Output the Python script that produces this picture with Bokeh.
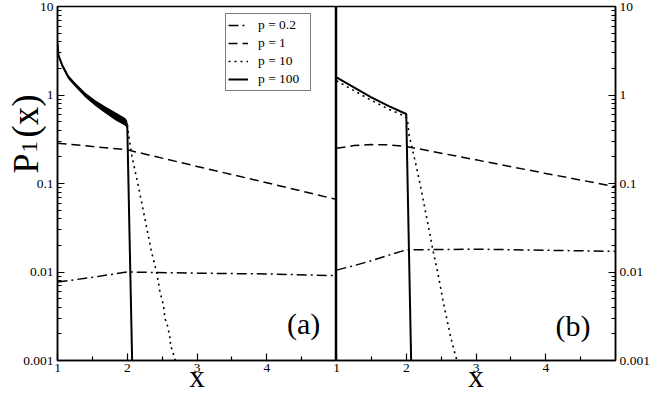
from bokeh.plotting import figure
from bokeh.layouts import row, column
from bokeh.models import (Range1d, FixedTicker, CustomJSTickFormatter, Label,
                          Legend, LegendItem)
from bokeh.embed import file_html
from bokeh.resources import INLINE

# ---------------- data ----------------
# panel (a)
a_x_p02 = [1.0, 1.5, 2.0, 3.0, 4.0, 5.0]
a_y_p02 = [0.0077, 0.0087, 0.0100, 0.0097, 0.0095, 0.0091]
a_x_p1 = [1.0, 1.5, 2.0, 3.0, 4.0, 5.0]
a_y_p1 = [0.285, 0.262, 0.240, 0.156, 0.102, 0.066]
a_x_p10 = [2.0, 2.01, 2.067, 2.16, 2.35, 2.42, 2.47, 2.52, 2.54, 2.59,
           2.60, 2.63, 2.61, 2.65, 2.67, 2.69]
a_y_p10 = [0.46, 0.40, 0.203, 0.093, 0.0166, 0.010, 0.0059, 0.0042, 0.0030,
           0.0023, 0.0019, 0.0017, 0.0015, 0.0013, 0.0011, 0.001]
a_x_p100 = [1.0, 1.014, 1.067, 1.157, 1.257, 1.40, 1.543, 1.686, 1.829,
            1.971, 2.0, 2.07]
a_y_p100 = [3.84, 2.81, 2.17, 1.59, 1.30, 1.0, 0.81, 0.68, 0.58, 0.50,
            0.46, 0.001]
# noisy band of p = 100 in panel (a): upper / lower envelope
a_x_band = [1.0, 1.014, 1.067, 1.157, 1.257, 1.40, 1.543, 1.686, 1.829,
            1.971, 2.0]
a_y_band_hi = [4.0, 2.92, 2.27, 1.67, 1.37, 1.06, 0.87, 0.74, 0.64, 0.55, 0.51]
a_y_band_lo = [3.7, 2.70, 2.07, 1.51, 1.23, 0.94, 0.75, 0.62, 0.52, 0.45, 0.41]

# panel (b)
b_x_p02 = [1.0, 1.25, 1.5, 1.75, 2.0, 3.0, 4.0, 5.0]
b_y_p02 = [0.0105, 0.0118, 0.0134, 0.0155, 0.0178, 0.0181, 0.0176, 0.0171]
b_x_p1 = [1.0, 1.25, 1.5, 1.75, 2.0, 3.0, 4.0, 5.0]
b_y_p1 = [0.250, 0.268, 0.275, 0.273, 0.262, 0.185, 0.130, 0.092]
b_x_p10 = [1.0, 1.25, 1.5, 1.75, 1.995, 2.02, 2.04, 2.09, 2.16, 2.21, 2.33,
           2.38, 2.45, 2.54, 2.64, 2.71, 2.73]
b_y_p10 = [1.45, 1.12, 0.87, 0.69, 0.57, 0.50, 0.355, 0.24, 0.137, 0.089,
           0.029, 0.018, 0.010, 0.0042, 0.0018, 0.0011, 0.001]
b_x_p100 = [1.0, 1.25, 1.5, 1.75, 2.0, 2.07]
b_y_p100 = [1.58, 1.22, 0.94, 0.75, 0.61, 0.001]

legend_labels = ["p = 0.2", "p = 1", "p = 10", "p = 100"]
x_ticks = [1, 2, 3, 4]
x_minor = [1.5, 2.5, 3.5, 4.5]
y_ticks = [0.001, 0.01, 0.1, 1, 10]

FONT = "Liberation Serif"
DASHDOT = "10 4 2 4"
DASHED = "9 5"
DOTTED = "2 4"
H = 396

y_minor = [k * d for d in (0.001, 0.01, 0.1, 1) for k in range(2, 10)]


def make_fig(width, bl, br, yloc):
    p = figure(width=width, height=H, y_axis_type="log",
               x_range=Range1d(1, 5), y_range=Range1d(0.001, 10),
               output_backend="svg", toolbar_location=None,
               y_axis_location=yloc, min_border_left=bl,
               min_border_right=br, min_border_top=6, min_border_bottom=34)
    p.xgrid.visible = False
    p.ygrid.visible = False
    p.outline_line_color = "black"
    p.outline_line_width = 1.5
    p.background_fill_color = "white"
    for ax in p.xaxis:
        ax.ticker = FixedTicker(ticks=x_ticks, minor_ticks=x_minor)
        ax.major_label_standoff = 3
        ax.axis_label = "x"
        ax.axis_label_text_font = FONT
        ax.axis_label_text_font_size = "31px"
        ax.axis_label_text_font_style = "normal"
        ax.axis_label_text_color = "black"
        ax.axis_label_standoff = -16
    for ax in p.yaxis:
        ax.ticker = FixedTicker(ticks=y_ticks, minor_ticks=y_minor)
        ax.formatter = CustomJSTickFormatter(code="return String(tick)")
        ax.major_label_standoff = 4
    for ax in p.axis:
        ax.axis_line_width = 1.5
        ax.axis_line_color = "black"
        ax.major_tick_in = 7
        ax.major_tick_out = 0
        ax.minor_tick_in = 4
        ax.minor_tick_out = 0
        ax.major_tick_line_width = 1.2
        ax.minor_tick_line_width = 1.2
        ax.major_tick_line_color = "black"
        ax.minor_tick_line_color = "black"
        ax.major_label_text_font = FONT
        ax.major_label_text_font_size = "13.5px"
        ax.major_label_text_color = "black"
    return p


p1 = make_fig(336, 57, 0, "left")
p2 = make_fig(326, 8, 39, "right")
p2.border_fill_alpha = 0
p2.margin = (0, 0, 0, -8)

# ---- panel (a)
p1.varea(x=a_x_band, y1=a_y_band_lo, y2=a_y_band_hi, fill_color="black")
r02 = p1.line(a_x_p02, a_y_p02, line_color="black", line_width=1.5,
              line_dash=DASHDOT)
r1 = p1.line(a_x_p1, a_y_p1, line_color="black", line_width=1.5,
             line_dash=DASHED)
r10 = p1.line(a_x_p10, a_y_p10, line_color="black", line_width=1.6,
              line_dash=DOTTED)
r100 = p1.line(a_x_p100, a_y_p100, line_color="black", line_width=2)

# ---- panel (b)
p2.line(b_x_p02, b_y_p02, line_color="black", line_width=1.5,
        line_dash=DASHDOT)
p2.line(b_x_p1, b_y_p1, line_color="black", line_width=1.5, line_dash=DASHED)
p2.line(b_x_p10, b_y_p10, line_color="black", line_width=1.6,
        line_dash=DOTTED)
p2.line(b_x_p100, b_y_p100, line_color="black", line_width=2)

legend = Legend(items=[LegendItem(label=legend_labels[0], renderers=[r02]),
                       LegendItem(label=legend_labels[1], renderers=[r1]),
                       LegendItem(label=legend_labels[2], renderers=[r10]),
                       LegendItem(label=legend_labels[3], renderers=[r100])],
                location=(168, 269))
legend.border_line_color = "black"
legend.border_line_width = 1
legend.background_fill_color = "white"
legend.background_fill_alpha = 1
legend.padding = 2
legend.spacing = 0
legend.margin = 0
legend.label_height = 18
legend.glyph_height = 18
legend.glyph_width = 20
legend.label_width = 50
legend.label_standoff = 10
legend.label_text_font = FONT
legend.label_text_font_size = "13.5px"
legend.label_text_color = "black"
p1.add_layout(legend, "center")

# panel letters
p1.add_layout(Label(x=4.29, y=0.0026, text="(a)", text_font=FONT,
                    text_font_size="30px", text_align="left",
                    text_baseline="middle", text_color="black"))
p2.add_layout(Label(x=4.14, y=0.00247, text="(b)", text_font=FONT,
                    text_font_size="30px", text_align="left",
                    text_baseline="middle", text_color="black"))

# ---- transparent overlay (pixel coordinates) for the y-axis title
OV_SHIFT = 10
ov = figure(width=654, height=H, x_range=Range1d(0, 654),
            y_range=Range1d(H, 0), output_backend="svg",
            toolbar_location=None, x_axis_location=None,
            y_axis_location=None, min_border=0)
ov.grid.visible = False
ov.outline_line_color = None
ov.background_fill_alpha = 0
ov.border_fill_alpha = 0
ov.margin = (-H - OV_SHIFT, 0, OV_SHIFT, 0)

ov.add_layout(Label(x=25, y=183, text="P", angle=1.5708, text_font=FONT,
                    text_font_size="36px", text_align="left",
                    text_baseline="alphabetic", text_color="black"))
ov.add_layout(Label(x=29, y=162, text="1", angle=1.5708, text_font=FONT,
                    text_font_size="23px", text_align="left",
                    text_baseline="alphabetic", text_color="black"))
ov.add_layout(Label(x=25, y=147, text="(x)", angle=1.5708, text_font=FONT,
                    text_font_size="37px", text_align="left",
                    text_baseline="alphabetic", text_color="black"))

layout = column(row(p1, p2), ov)
open("out.html", "w").write(file_html(layout, INLINE))
